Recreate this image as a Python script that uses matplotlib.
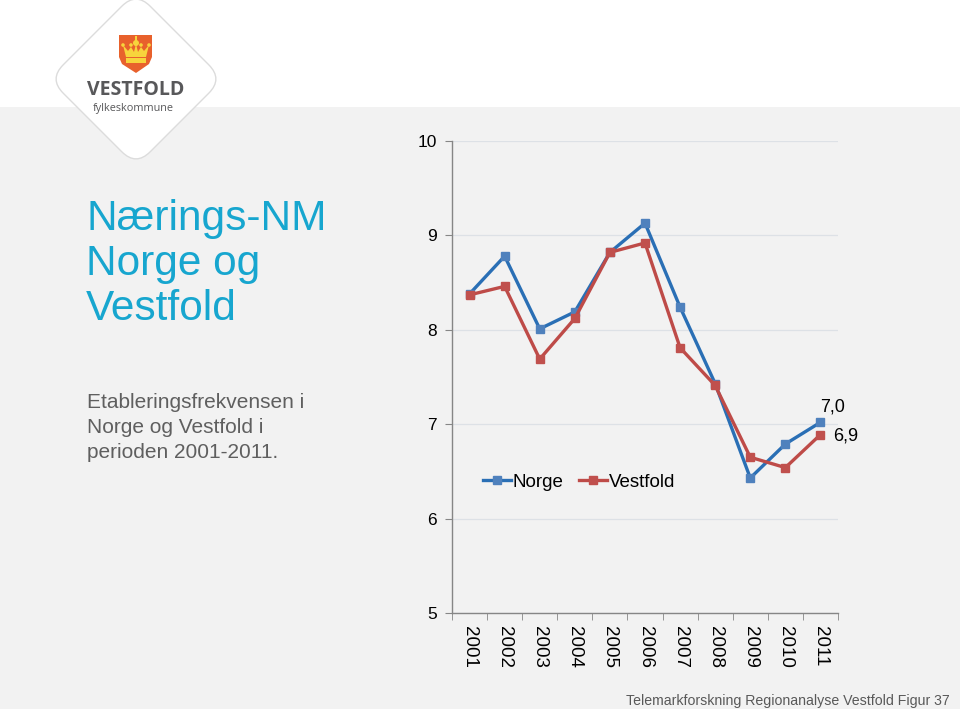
import matplotlib.pyplot as plt
from matplotlib.patches import Rectangle, FancyBboxPatch, Polygon, Circle
from matplotlib.transforms import Affine2D

plt.rcParams['font.family'] = ['Liberation Sans', 'DejaVu Sans']

years = ['2001', '2002', '2003', '2004', '2005', '2006', '2007', '2008', '2009', '2010', '2011']
norge = [8.38, 8.78, 8.01, 8.19, 8.82, 9.13, 8.24, 7.43, 6.43, 6.79, 7.02]
vestfold = [8.37, 8.46, 7.69, 8.12, 8.82, 8.92, 7.81, 7.41, 6.65, 6.54, 6.89]
y_ticks = [5, 6, 7, 8, 9, 10]
end_labels = ['7,0', '6,9']

fig = plt.figure(figsize=(9.6, 7.09), dpi=100)
fig.patch.set_facecolor('white')

# bakgrunn og logo i pikselkoordinater
bg = fig.add_axes([0, 0, 1, 1], zorder=0)
bg.set_xlim(0, 960)
bg.set_ylim(709, 0)
bg.axis('off')
bg.add_patch(Rectangle((0, 107), 960, 602, facecolor='#f2f2f2', edgecolor='none'))

side = 123
diamond = FancyBboxPatch((136 - side / 2, 79 - side / 2), side, side,
                         boxstyle='round,pad=0,rounding_size=20',
                         facecolor='white', edgecolor='#dcdcdc', lw=1)
diamond.set_transform(Affine2D().rotate_deg_around(136, 79, 45) + bg.transData)
bg.add_patch(diamond)

# skjold med krone
yellow = '#f7d43c'
shield = [(119, 35), (152, 35), (152, 57), (149, 64), (136, 73), (122, 64), (119, 57)]
bg.add_patch(Polygon(shield, closed=True, facecolor='#e8612c', edgecolor='none'))
crown = [(123, 45), (128, 51), (131, 47), (134, 52), (136, 44), (138, 52), (141, 47),
         (144, 51), (149, 45), (146, 57), (126, 57)]
bg.add_patch(Polygon(crown, closed=True, facecolor=yellow, edgecolor='none'))
bg.add_patch(Rectangle((126, 58), 20, 5, facecolor=yellow, edgecolor='none'))
bg.add_patch(Circle((136, 43), 3, facecolor=yellow, edgecolor='none'))
bg.add_patch(Rectangle((135, 36), 2, 5, facecolor=yellow, edgecolor='none'))
for cx in (123, 131, 141, 149):
    bg.add_patch(Circle((cx, 45), 1.8, facecolor=yellow, edgecolor='none'))
bg.text(136, 90, 'VESTFOLD', ha='center', va='center', fontsize=14, fontweight='bold',
        color='#58585a', family=['Open Sans', 'DejaVu Sans'])
bg.text(133, 108, 'fylkeskommune', ha='center', va='center', fontsize=7.8,
        color='#58585a', family=['Open Sans', 'DejaVu Sans'])

# tittel og tekst til venstre
title_lines = ['Nærings-NM', 'Norge og', 'Vestfold']
for i, line in enumerate(title_lines):
    bg.text(86, 230 + i * 45, line, ha='left', va='baseline', fontsize=30.5, color='#17a6cf')
sub_lines = ['Etableringsfrekvensen i', 'Norge og Vestfold i', 'perioden 2001-2011.']
for i, line in enumerate(sub_lines):
    bg.text(87, 408 + i * 25, line, ha='left', va='baseline', fontsize=15, color='#5f5f5f')

bg.text(950, 701, 'Telemarkforskning Regionanalyse Vestfold Figur 37', ha='right',
        va='center', fontsize=10.2, color='#595959')

# selve diagrammet
ax = fig.add_axes([452 / 960, 1 - 613 / 709, (838 - 452) / 960, (613 - 141) / 709], zorder=2)
ax.patch.set_alpha(0)
x = list(range(len(years)))
ax.plot(x, norge, color='#2a6fb5', lw=2.4, marker='s', markersize=6,
        markerfacecolor='#4f81bd', markeredgecolor='#4f81bd', label='Norge')
ax.plot(x, vestfold, color='#be4b48', lw=2.4, marker='s', markersize=6,
        markerfacecolor='#c0504d', markeredgecolor='#c0504d', label='Vestfold')

ax.set_xlim(-0.5, len(years) - 0.5)
ax.set_ylim(5, 10)
ax.set_yticks(y_ticks)
ax.set_yticklabels([str(v) for v in y_ticks], fontsize=12.5)
ax.set_xticks(x)
ax.set_xticklabels(years, rotation=-90, fontsize=13.5)
ax.set_xticks([i - 0.5 for i in range(len(years) + 1)], minor=True)
ax.tick_params(axis='x', which='major', length=0, pad=9)
ax.tick_params(axis='x', which='minor', length=5, color='#868686', direction='out')
ax.tick_params(axis='y', length=5, color='#868686', pad=6)
ax.grid(axis='y', color='#dde1e6', lw=0.9)
ax.set_axisbelow(True)
for s in ['top', 'right']:
    ax.spines[s].set_visible(False)
for s in ['left', 'bottom']:
    ax.spines[s].set_color('#868686')
    ax.spines[s].set_linewidth(1)

ax.annotate(end_labels[0], (x[-1], norge[-1]), xytext=(9, 11), textcoords='offset points',
            ha='center', va='center', fontsize=13)
ax.annotate(end_labels[1], (x[-1], vestfold[-1]), xytext=(9, -1), textcoords='offset points',
            ha='left', va='center', fontsize=13)

ax.legend(loc='center left', bbox_to_anchor=(0.08, 0.2775), ncol=2, frameon=False,
          borderpad=0, borderaxespad=0, fontsize=13.5, handlelength=1.5,
          handletextpad=0.1, columnspacing=0.8)

fig.savefig('out.png', dpi=100)
